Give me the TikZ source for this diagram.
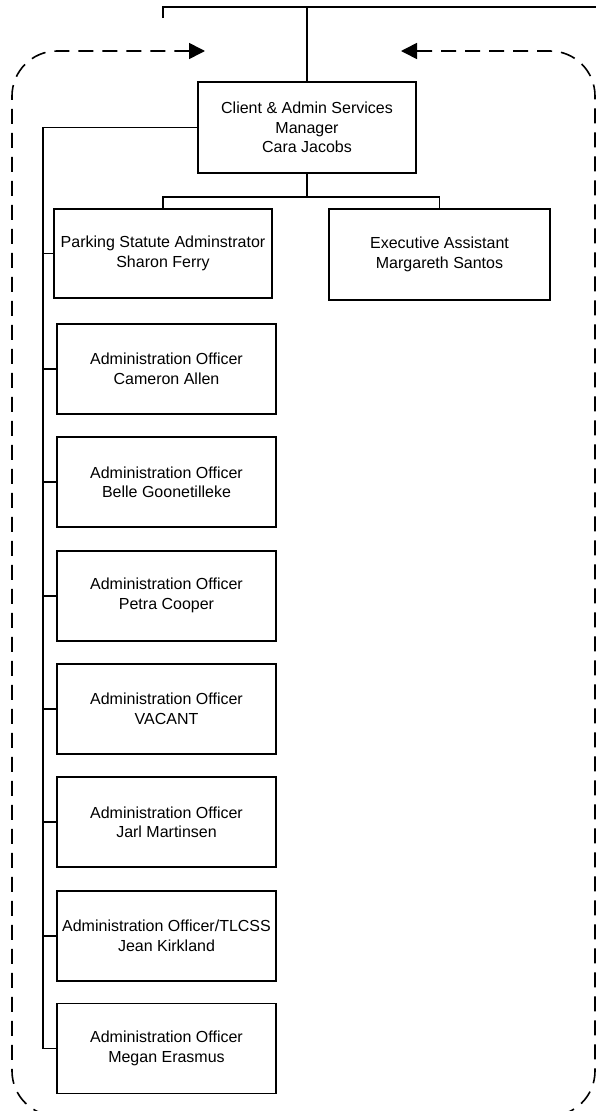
\documentclass[tikz,border=0pt]{standalone}
\usepackage{fontspec}
\setmainfont{Liberation Sans}
\usetikzlibrary{arrows.meta}

\tikzset{
  post/.style={draw, line width=1.8pt, minimum width=219pt, minimum height=90pt,
    inner sep=0pt, align=center, font=\fontsize{16}{19.5}\selectfont},
  link/.style={line width=1.8pt},
  frame/.style={line width=1.6pt, dash pattern=on 15pt off 9pt, rounded corners=45pt,
    {Triangle[length=16pt,width=16pt]}-{Triangle[length=16pt,width=16pt]}}
}

\begin{document}
\begin{tikzpicture}[x=1pt,y=-1pt]
    \useasboundingbox (0,0) rectangle (596,1111);
    % manager and direct reports
    \node[post, minimum width=218pt, minimum height=91pt] (cara) at (307,127.5) {Client \& Admin Services\\Manager\\Cara Jacobs};
    \node[post, minimum width=218pt, minimum height=89pt] (sharon) at (163,253.5) {Parking Statute Adminstrator\\Sharon Ferry};
    \node[post, minimum width=221pt, minimum height=91pt] (margareth) at (439.5,254.5) {Executive Assistant\\Margareth Santos};
    \node[post] (cameron) at (166.5,369) {Administration Officer\\Cameron Allen};
    \node[post] (belle) at (166.5,482.3) {Administration Officer\\Belle Goonetilleke};
    \node[post] (petra) at (166.5,595.6) {Administration Officer\\Petra Cooper};
    \node[post] (vacant) at (166.5,709) {Administration Officer\\VACANT};
    \node[post] (jarl) at (166.5,822.3) {Administration Officer\\Jarl Martinsen};
    \node[post] (jean) at (166.5,935.6) {Administration Officer/TLCSS\\Jean Kirkland};
    \node[post] (megan) at (166.5,1048.5) {Administration Officer\\Megan Erasmus};
    % line from above
    \coordinate (topl) at (163,18);
    \coordinate (topr) at (596,7);
    \draw[link] (topl) |- (topr);
    \draw[link] (cara.north) -- (cara.north |- topr);
    % split to the two boxes below
    \coordinate (split) at (307,197);
    \draw[link] (cara.south) -- (split) -| (sharon.north);
    \draw[link] (split) -| (margareth.north);
    % spine on the left
    \coordinate (spine) at (43,0);
    \draw[link] (cara.west) -| (spine |- megan.west) -- (megan.west);
    \draw[link] (spine |- sharon.west) -- (sharon.west);
    \draw[link] (spine |- cameron.west) -- (cameron.west);
    \draw[link] (spine |- belle.west) -- (belle.west);
    \draw[link] (spine |- petra.west) -- (petra.west);
    \draw[link] (spine |- vacant.west) -- (vacant.west);
    \draw[link] (spine |- jarl.west) -- (jarl.west);
    \draw[link] (spine |- jean.west) -- (jean.west);
    % dashed team frame
    \coordinate (arrl) at (205,51);
    \coordinate (arrr) at (401,51);
    \draw[frame] (arrl) -- (12,51) -- (12,1116) -- (595,1116) -- (595,51) -- (arrr);
\end{tikzpicture}
\end{document}
